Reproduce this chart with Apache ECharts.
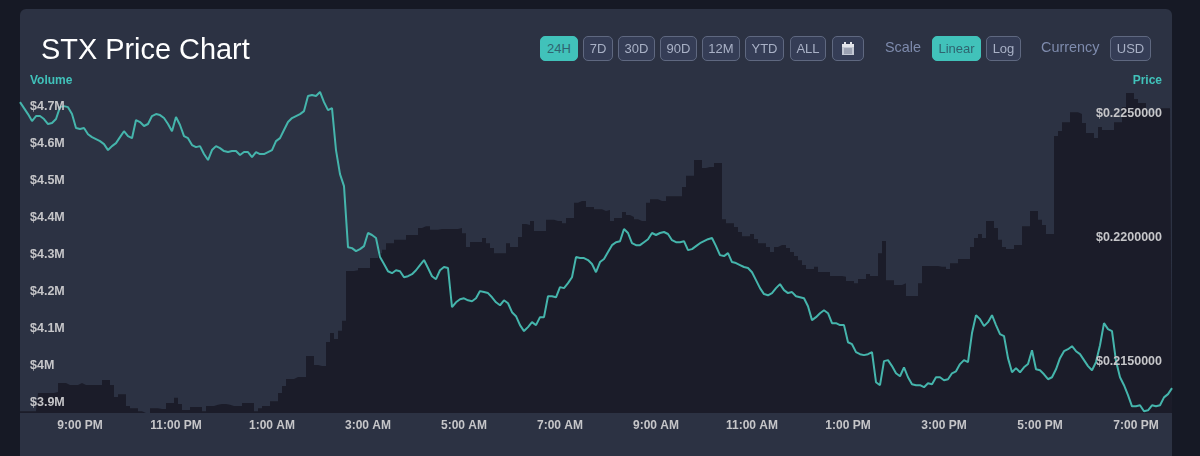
<!DOCTYPE html>
<html>
<head>
<meta charset="utf-8">
<title>STX Price Chart</title>
<script src="https://cdn.jsdelivr.net/npm/echarts@6/dist/echarts.min.js"></script>
<style>
    html, body { margin: 0; padding: 0; width: 1200px; height: 456px; overflow: hidden; background: #161925; font-family: "Liberation Sans", Arial, sans-serif; }
    #card { position: absolute; left: 20px; top: 9px; width: 1152px; height: 447px; background: #2c3243; border-radius: 6px 6px 0 0; }
    #chart { position: absolute; left: 0; top: 0; width: 1200px; height: 456px; }
    h1 { position: absolute; left: 41px; top: 32px; margin: 0; font-size: 28.9px; line-height: 34px; font-weight: normal; color: #fff; }
    .btn, .lbl { position: absolute; top: 36px; height: 25px; line-height: 25px; box-sizing: border-box; text-align: center; font-size: 13px; }
    .btn { background: #353d56; border: 1px solid #5f6880; border-radius: 5px; color: #a9b1c6; line-height: 23px; }
    .btn.on { background: #41c2ba; border-color: #41c2ba; color: #2f6470; }
    .lbl { color: #7e8bad; font-size: 14.4px; text-align: left; line-height: 23px; }
    .btn svg { position: absolute; left: 8px; top: 5px; }
</style>
</head>
<body>
<div id="card"></div>
<div id="chart"></div>
<h1>STX Price Chart</h1>
<div class="btn on" style="left:540px;width:38px">24H</div>
<div class="btn" style="left:583px;width:30px">7D</div>
<div class="btn" style="left:618px;width:37px">30D</div>
<div class="btn" style="left:660px;width:37px">90D</div>
<div class="btn" style="left:702px;width:38px">12M</div>
<div class="btn" style="left:745px;width:39px">YTD</div>
<div class="btn" style="left:790px;width:36px">ALL</div>
<div class="btn" style="left:832px;width:32px">
    <svg width="14" height="14" viewBox="0 0 14 14"><rect x="1" y="2" width="12" height="11" fill="#c3c8d4"/><rect x="1" y="2" width="12" height="3" fill="#e2e4ea"/><rect x="3" y="0" width="2" height="3" fill="#e2e4ea"/><rect x="9" y="0" width="2" height="3" fill="#e2e4ea"/><path d="M3 7h8M3 9h8M3 11h8" stroke="#5f6880" stroke-width="0.8"/></svg>
</div>
<div class="lbl" style="left:885px;width:40px">Scale</div>
<div class="btn on" style="left:932px;width:49px">Linear</div>
<div class="btn" style="left:986px;width:35px">Log</div>
<div class="lbl" style="left:1041px;width:64px">Currency</div>
<div class="btn" style="left:1110px;width:41px">USD</div>

<script>
// ticks
var timeTicks = ['9:00 PM', '11:00 PM', '1:00 AM', '3:00 AM', '5:00 AM', '7:00 AM', '9:00 AM', '11:00 AM', '1:00 PM', '3:00 PM', '5:00 PM', '7:00 PM'];
var volumeTicks = [3.9, 4, 4.1, 4.2, 4.3, 4.4, 4.5, 4.6, 4.7]; // millions
var priceTicks = [0.215, 0.22, 0.225];

// one value every 5 minutes, from 7:45 PM to 7:45 PM the next day
var volume = [
    3.878,3.878,3.878,3.878,3.878,3.927,3.927,3.927,3.927,3.930,3.954,3.954,
    3.949,3.949,3.949,3.954,3.949,3.949,3.949,3.949,3.949,3.962,3.962,3.949,
    3.916,3.924,3.924,3.892,3.886,3.886,3.878,3.873,3.873,3.886,3.886,3.884,
    3.884,3.900,3.900,3.914,3.897,3.881,3.881,3.889,3.889,3.889,3.878,3.892,
    3.892,3.895,3.897,3.897,3.895,3.892,3.892,3.892,3.900,3.900,3.900,3.878,
    3.886,3.892,3.892,3.905,3.905,3.927,3.946,3.965,3.965,3.970,3.970,3.970,
    4.027,4.027,4.003,4.000,4.000,4.065,4.089,4.073,4.095,4.122,4.257,4.257,
    4.259,4.265,4.265,4.265,4.292,4.292,4.305,4.314,4.332,4.332,4.341,4.341,
    4.341,4.354,4.354,4.354,4.373,4.378,4.378,4.368,4.368,4.370,4.370,4.370,
    4.370,4.370,4.373,4.359,4.322,4.335,4.335,4.335,4.346,4.332,4.319,4.305,
    4.305,4.305,4.332,4.322,4.322,4.349,4.384,4.381,4.392,4.365,4.365,4.365,
    4.395,4.395,4.392,4.392,4.386,4.400,4.400,4.441,4.446,4.446,4.430,4.430,
    4.424,4.424,4.419,4.422,4.392,4.400,4.400,4.416,4.408,4.403,4.397,4.392,
    4.392,4.441,4.451,4.451,4.446,4.446,4.459,4.459,4.459,4.459,4.484,4.514,
    4.514,4.557,4.557,4.535,4.538,4.538,4.549,4.549,4.397,4.386,4.386,4.376,
    4.362,4.351,4.351,4.357,4.343,4.332,4.332,4.322,4.308,4.322,4.327,4.327,
    4.319,4.308,4.297,4.286,4.273,4.262,4.262,4.268,4.254,4.254,4.254,4.243,
    4.243,4.243,4.241,4.230,4.230,4.224,4.235,4.235,4.249,4.243,4.243,4.305,
    4.338,4.232,4.232,4.219,4.219,4.224,4.189,4.189,4.189,4.224,4.270,4.270,
    4.270,4.270,4.268,4.268,4.262,4.278,4.278,4.289,4.289,4.289,4.322,4.346,
    4.357,4.346,4.392,4.392,4.373,4.341,4.322,4.316,4.316,4.327,4.327,4.378,
    4.378,4.419,4.419,4.395,4.381,4.357,4.357,4.622,4.635,4.659,4.659,4.686,
    4.686,4.681,4.657,4.630,4.630,4.616,4.646,4.638,4.638,4.638,4.659,4.659,
    4.700,4.738,4.738,4.722,4.711,4.711,4.684,4.684,4.684,4.697,4.697,4.697,
    4.705
];

var price = [
    .22546,.22522,.22498,.22470,.22490,.22490,.22478,.22458,.22462,.22478,.22526,.22530,
    .22526,.22498,.22442,.22438,.22442,.22417,.22405,.22397,.22389,.22377,.22353,.22369,
    .22381,.22405,.22429,.22409,.22401,.22474,.22466,.22450,.22458,.22490,.22498,.22494,
    .22482,.22458,.22429,.22486,.22454,.22409,.22401,.22373,.22365,.22369,.22337,.22313,
    .22353,.22369,.22361,.22349,.22345,.22349,.22349,.22333,.22345,.22345,.22325,.22345,
    .22337,.22337,.22345,.22353,.22389,.22401,.22434,.22466,.22482,.22490,.22498,.22510,
    .22571,.22575,.22571,.22587,.22546,.22514,.22522,.22353,.22256,.22208,.21962,.21958,
    .21946,.21954,.21966,.22019,.22011,.21999,.21922,.21894,.21865,.21857,.21869,.21865,
    .21841,.21845,.21853,.21869,.21890,.21910,.21878,.21845,.21833,.21869,.21882,.21878,
    .21720,.21740,.21752,.21756,.21748,.21744,.21756,.21785,.21781,.21777,.21760,.21740,
    .21728,.21748,.21736,.21700,.21684,.21648,.21624,.21640,.21660,.21648,.21680,.21680,
    .21764,.21764,.21760,.21801,.21797,.21817,.21841,.21922,.21918,.21918,.21910,.21894,
    .21861,.21902,.21914,.21942,.21970,.21982,.21986,.22035,.22019,.21978,.21970,.21970,
    .21982,.21994,.22019,.22011,.22019,.22023,.22015,.21990,.21982,.21982,.21986,.21950,
    .21954,.21966,.21978,.21986,.21994,.21999,.21966,.21930,.21926,.21938,.21902,.21898,
    .21890,.21882,.21878,.21861,.21829,.21797,.21773,.21768,.21777,.21797,.21813,.21789,
    .21777,.21781,.21764,.21760,.21756,.21724,.21668,.21680,.21696,.21708,.21696,.21656,
    .21656,.21648,.21648,.21579,.21571,.21539,.21531,.21527,.21531,.21539,.21418,.21406,
    .21503,.21507,.21483,.21454,.21442,.21478,.21438,.21410,.21406,.21406,.21398,.21414,
    .21410,.21438,.21438,.21426,.21430,.21454,.21462,.21491,.21507,.21499,.21616,.21688,
    .21672,.21644,.21660,.21688,.21648,.21612,.21604,.21515,.21458,.21475,.21458,.21478,
    .21491,.21547,.21470,.21466,.21450,.21430,.21438,.21470,.21515,.21543,.21551,.21563,
    .21543,.21531,.21507,.21483,.21466,.21499,.21567,.21656,.21632,.21624,.21503,.21438,
    .21406,.21366,.21321,.21321,.21325,.21301,.21305,.21325,.21321,.21325,.21357,.21370,
    .21394
];

// x axis : the labels of each 5 minute step
var categories = [];
for (var i = 0; i < price.length; i++) {
    var minutes = (19 * 60 + 45 + i * 5) % 1440;
    var h = Math.floor(minutes / 60);
    var m = minutes % 60;
    categories.push(((h + 11) % 12 + 1) + ':' + (m < 10 ? '0' + m : m) + (h < 12 ? ' AM' : ' PM'));
}

var labelStyle = { fontFamily: '"Liberation Sans", Arial, sans-serif', fontSize: 12, fontWeight: 'bold', color: '#c6c6c9' };
var yLabelStyle = Object.assign({}, labelStyle, { fontSize: 12.5, padding: [2, 0, 0, 0] });
var nameStyle = { fontFamily: '"Liberation Sans", Arial, sans-serif', fontSize: 12, fontWeight: 'bold', color: '#41c2ba' };

var chart = echarts.init(document.getElementById('chart'), null, { renderer: 'canvas' });
chart.setOption({
    animation: false,
    backgroundColor: 'transparent',
    grid: { left: 20, right: 28, top: 90, bottom: 43 },
    xAxis: {
        type: 'category',
        data: categories,
        boundaryGap: false,
        axisLine: { show: false },
        axisTick: { show: false },
        axisLabel: Object.assign({}, labelStyle, {
            margin: 7,
            interval: function (index, value) { return timeTicks.indexOf(value) >= 0; }
        })
    },
    yAxis: [
        {
            type: 'value',
            position: 'left',
            min: 3.873,
            max: 4.746,
            z: 5,
            name: 'Volume',
            nameGap: 3,
            nameTextStyle: Object.assign({}, nameStyle, { align: 'left', padding: [0, 0, 0, 10] }),
            axisLine: { show: false },
            axisTick: { show: false },
            splitLine: { show: false },
            axisLabel: Object.assign({}, yLabelStyle, {
                inside: true,
                margin: 10,
                customValues: volumeTicks,
                formatter: function (v) { return '$' + v + 'M'; }
            })
        },
        {
            type: 'value',
            position: 'right',
            min: 0.21294,
            max: 0.22595,
            z: 5,
            name: 'Price',
            nameGap: 3,
            nameTextStyle: Object.assign({}, nameStyle, { align: 'right', padding: [0, 10, 0, 0] }),
            axisLine: { show: false },
            axisTick: { show: false },
            splitLine: { show: false },
            axisLabel: Object.assign({}, yLabelStyle, {
                inside: true,
                margin: 10,
                customValues: priceTicks,
                formatter: function (v) { return '$' + v.toFixed(7); }
            })
        }
    ],
    series: [
        {
            name: 'Volume',
            type: 'line',
            yAxisIndex: 0,
            step: 'middle',
            data: volume,
            showSymbol: false,
            lineStyle: { width: 0 },
            areaStyle: { color: '#1b1c29', opacity: 1, origin: 'start' },
            z: 1
        },
        {
            name: 'Price',
            type: 'line',
            yAxisIndex: 1,
            data: price,
            showSymbol: false,
            lineStyle: { color: '#45b5ac', width: 2 },
            z: 2
        }
    ]
});
</script>
</body>
</html>
